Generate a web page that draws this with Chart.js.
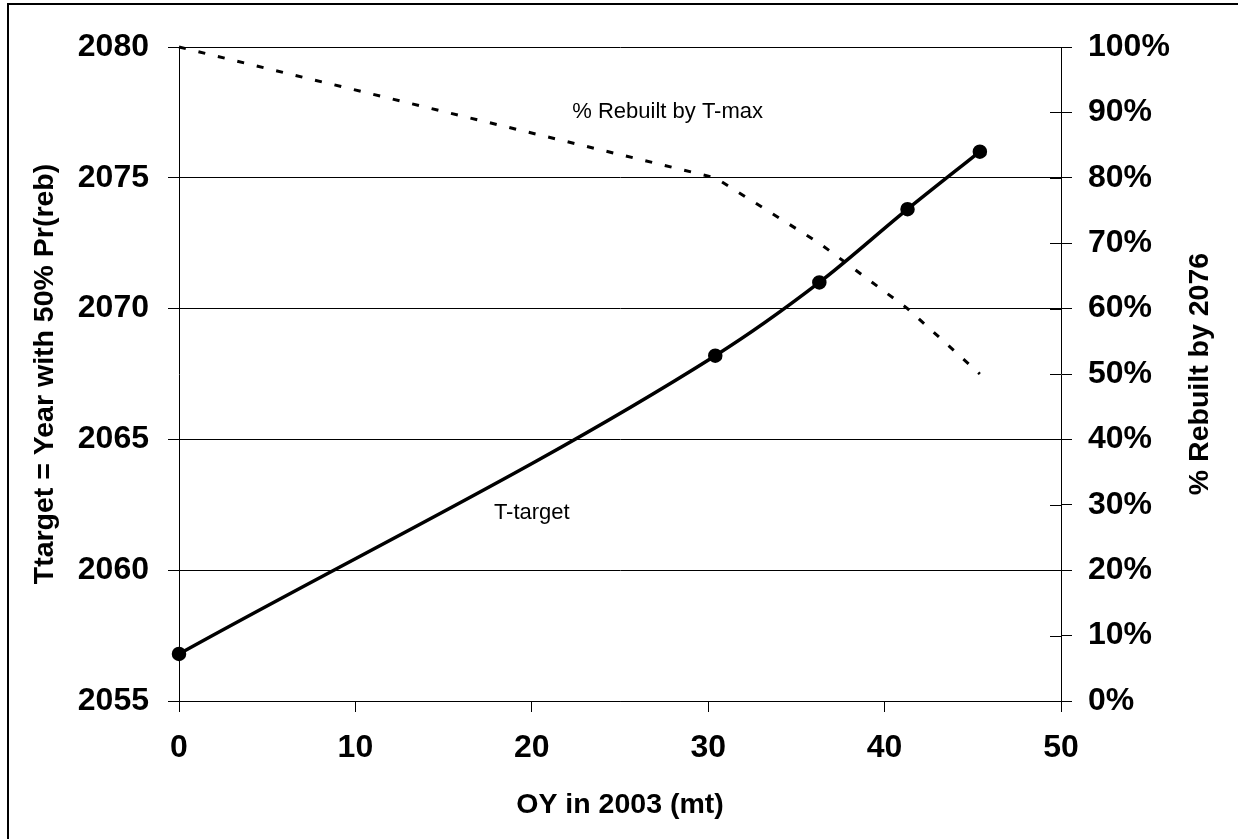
<!DOCTYPE html>
<html lang="en">
<head>
<meta charset="UTF-8">
<title>OY vs Ttarget</title>
<script src="https://cdn.jsdelivr.net/npm/chart.js"></script>
<style>
  html, body { margin: 0; padding: 0; background: #fff; }
  #wrap { width: 1238px; height: 839px; }
</style>
</head>
<body>
<div id="wrap"><canvas id="chart" width="1238" height="839"></canvas></div>
<script>
// data
const oyValues   = [0, 30.4, 36.3, 41.3, 45.4];
const tTarget    = [2056.8, 2068.2, 2071.0, 2073.8, 2076.0];
const pctRebuilt = [100, 80, 70, 60, 50];

// tick labels
const xTicks    = [0, 10, 20, 30, 40, 50];
const yearTicks = [2055, 2060, 2065, 2070, 2075, 2080];
const pctTicks  = [0, 10, 20, 30, 40, 50, 60, 70, 80, 90, 100];

// text labels inside the plot (x, year)
const noteText = ['% Rebuilt by T-max', 'T-target'];
const noteAt   = [[27.7, 2077.5], [20.0, 2062.2]];

const FONT = "'Liberation Sans', Arial, sans-serif";
const tickFont = { family: FONT, size: 32, weight: 'bold' };
const titleFont = { family: FONT, size: 28.5, weight: 'bold' };

function setTicks(list) {
    return function(scale) { scale.ticks = list.map(v => ({ value: v })); };
}

const decor = {
    id: 'decor',
    beforeDraw(chart) {
        const ctx = chart.ctx;
        ctx.save();
        ctx.fillStyle = '#fff';
        ctx.fillRect(0, 0, chart.width, chart.height);
        // outer frame
        ctx.strokeStyle = '#000';
        ctx.lineWidth = 2;
        ctx.beginPath();
        ctx.moveTo(8, chart.height);
        ctx.lineTo(8, 4);
        ctx.lineTo(chart.width, 4);
        ctx.stroke();
        ctx.restore();
    },
    afterDraw(chart) {
        const ctx = chart.ctx;
        const xs = chart.scales.x, yl = chart.scales.y, yr = chart.scales.y2;
        const area = chart.chartArea;
        ctx.save();
        // right axis ticks cross the axis line
        ctx.strokeStyle = '#000';
        ctx.lineWidth = 1;
        pctTicks.forEach(v => {
            const py = Math.round(yr.getPixelForValue(v)) + 0.5;
            ctx.beginPath();
            ctx.moveTo(area.right - 11, py);
            ctx.lineTo(area.right, py);
            ctx.stroke();
        });
        // right axis title, reads bottom to top
        ctx.fillStyle = '#000';
        ctx.font = 'bold 28.5px ' + FONT;
        ctx.textAlign = 'center';
        ctx.textBaseline = 'middle';
        ctx.translate(1200, (area.top + area.bottom) / 2);
        ctx.rotate(-Math.PI / 2);
        ctx.fillText('% Rebuilt by 2076', 0, 0);
        ctx.restore();

        ctx.save();
        ctx.fillStyle = '#000';
        ctx.font = '22px ' + FONT;
        ctx.textAlign = 'center';
        ctx.textBaseline = 'middle';
        noteText.forEach((t, i) => {
            ctx.fillText(t, xs.getPixelForValue(noteAt[i][0]), yl.getPixelForValue(noteAt[i][1]));
        });
        ctx.restore();
    }
};

new Chart(document.getElementById('chart').getContext('2d'), {
    type: 'scatter',
    data: {
        datasets: [{
            label: 'T-target',
            data: oyValues.map((x, i) => ({ x: x, y: tTarget[i] })),
            yAxisID: 'y',
            showLine: true,
            clip: false,
            borderColor: '#000',
            borderWidth: 3.5,
            pointRadius: 5.5,
            pointBackgroundColor: '#000',
            pointBorderColor: '#000',
            cubicInterpolationMode: 'monotone'
        }, {
            label: '% Rebuilt by T-max',
            data: oyValues.map((x, i) => ({ x: x, y: pctRebuilt[i] })),
            yAxisID: 'y2',
            showLine: true,
            clip: false,
            borderColor: '#000',
            borderWidth: 3,
            borderDash: [7, 13],
            pointRadius: 0,
            tension: 0
        }]
    },
    options: {
        responsive: false,
        animation: false,
        devicePixelRatio: 1,
        layout: { padding: { top: 47, left: 0, right: 0, bottom: 0 } },
        plugins: { legend: { display: false }, tooltip: { enabled: false } },
        scales: {
            x: {
                type: 'linear',
                min: 0, max: 50,
                afterBuildTicks: setTicks(xTicks),
                afterFit: s => { s.height = 138; },
                grid: { drawOnChartArea: false, drawTicks: true, tickLength: 11, color: '#000' },
                border: { color: '#000', width: 1 },
                ticks: { font: tickFont, color: '#000', padding: 17, maxRotation: 0 },
                title: {
                    display: true,
                    text: 'OY in 2003 (mt)',
                    color: '#000',
                    font: titleFont,
                    padding: { top: 0, bottom: 17 }
                }
            },
            y: {
                type: 'linear',
                position: 'left',
                min: 2055, max: 2080,
                afterBuildTicks: setTicks(yearTicks),
                afterFit: s => { s.width = 179; },
                grid: { color: '#000', lineWidth: 1, drawTicks: true, tickLength: 11 },
                border: { color: '#000', width: 1 },
                ticks: { font: tickFont, color: '#000', padding: 19, callback: v => String(v) },
                title: {
                    display: true,
                    text: 'Ttarget = Year with 50% Pr(reb)',
                    color: '#000',
                    font: titleFont,
                    padding: { top: 28, bottom: 0 }
                }
            },
            y2: {
                type: 'linear',
                position: 'right',
                min: 0, max: 100,
                afterBuildTicks: setTicks(pctTicks),
                afterFit: s => { s.width = 177; },
                grid: { drawOnChartArea: false, drawTicks: true, tickLength: 11, color: '#000' },
                border: { color: '#000', width: 1 },
                ticks: { font: tickFont, color: '#000', padding: 16, callback: v => v + '%' }
            }
        }
    },
    plugins: [decor]
});
</script>
</body>
</html>
